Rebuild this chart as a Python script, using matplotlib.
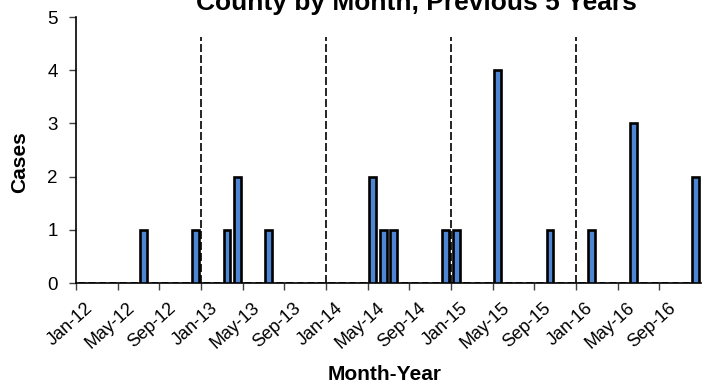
import matplotlib
matplotlib.use("Agg")
import matplotlib.pyplot as plt
import matplotlib.transforms as mtransforms

plt.rcParams['font.family'] = ['Liberation Sans', 'DejaVu Sans']

# monthly case counts, Jan-12 .. Dec-16
cases_2012 = [0, 0, 0, 0, 0, 0, 1, 0, 0, 0, 0, 1]
cases_2013 = [0, 0, 1, 2, 0, 0, 1, 0, 0, 0, 0, 0]
cases_2014 = [0, 0, 0, 0, 2, 1, 1, 0, 0, 0, 0, 1]
cases_2015 = [1, 0, 0, 0, 4, 0, 0, 0, 0, 1, 0, 0]
cases_2016 = [0, 1, 0, 0, 0, 3, 0, 0, 0, 0, 0, 2]
cases = cases_2012 + cases_2013 + cases_2014 + cases_2015 + cases_2016

tick_labels = ["Jan-12", "May-12", "Sep-12", "Jan-13", "May-13", "Sep-13",
               "Jan-14", "May-14", "Sep-14", "Jan-15", "May-15", "Sep-15",
               "Jan-16", "May-16", "Sep-16"]
year_starts = [12, 24, 36, 48]   # month index of Jan-13 .. Jan-16

fig = plt.figure(figsize=(7.09, 3.87), dpi=100)
ax = fig.add_axes([76/709, 1 - 283/387, 625/709, 266/387])

x = [i + 0.5 for i in range(len(cases))]
ax.bar(x, cases, width=0.66, color='#4f86d3', edgecolor='black', linewidth=1.9, zorder=3)

for m in year_starts:
    ax.plot([m, m], [0, 4.62], color='black', lw=1.2, dashes=(4.8, 1.8), zorder=2)

ax.set_xlim(0, 60)
ax.set_ylim(0, 5)
ax.set_yticks(range(6))
ax.set_xticks(range(0, 60, 4))
ax.set_xticklabels(tick_labels, rotation=42, ha='right', va='top', rotation_mode='anchor')
ax.tick_params(axis='x', length=5, width=1, color='#404040', labelsize=13, pad=7)
ax.tick_params(axis='y', length=5, width=1, color='#404040', labelsize=13.5, pad=8)

shift = mtransforms.ScaledTranslation(9/100, 0, fig.dpi_scale_trans)
for lab in ax.get_xticklabels():
    lab.set_transform(lab.get_transform() + shift)

for s in ['top', 'right']:
    ax.spines[s].set_visible(False)
ax.spines['left'].set_linewidth(1.2)
ax.spines['bottom'].set_linewidth(1.2)

fig.text(416/709, 1 - 10/387, "County by Month, Previous 5 Years", fontsize=19,
         fontweight='bold', ha='center', va='baseline')
fig.text(20/709, 1 - 162/387, "Cases", fontsize=15, fontweight='bold',
         rotation=90, ha='center', va='center')
fig.text(385/709, 1 - 375/387, "Month-Year", fontsize=15, fontweight='bold',
         ha='center', va='center')

fig.savefig("out.png", dpi=100)
